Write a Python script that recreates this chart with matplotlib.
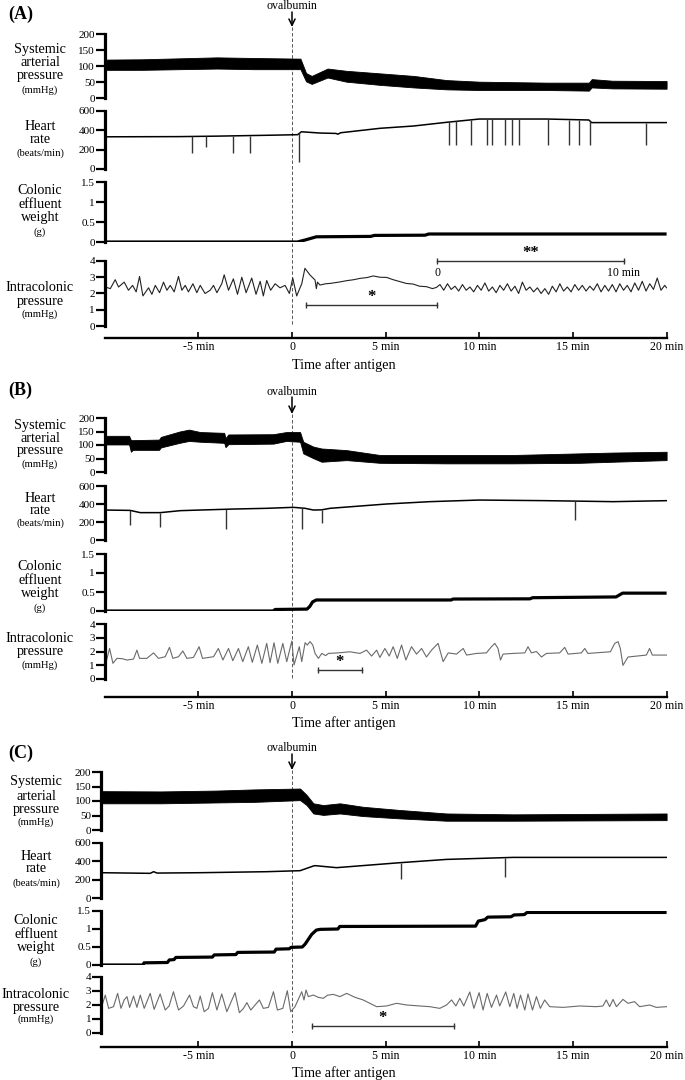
import matplotlib
matplotlib.use('Agg')
import matplotlib.pyplot as plt
import numpy as np
from matplotlib.transforms import blended_transform_factory

plt.rcParams['font.family'] = ['Liberation Serif', 'DejaVu Serif']

# ---------------- DATA ----------------
TIME_TICKS = [-5, 0, 5, 10, 15, 20]
TIME_LABELS = ['-5 min', '0', '5 min', '10 min', '15 min', '20 min']
ANTIGEN_T = 0
SAP_TICKS = [0, 50, 100, 150, 200]
HR_TICKS = [0, 200, 400, 600]
CEW_TICKS = [0, 0.5, 1, 1.5]
CEW_LABELS = ['0', '0.5', '1', '1.5']
ICP_TICKS = [0, 1, 2, 3, 4]

# Panel A
A_SAP_T = [-10, -8, -6, -4, -2, 0.45, 0.75, 1.05, 1.9, 2.9, 4.7, 6.5, 8.25, 10, 13.6, 15.85, 16.0, 17.1, 20]
A_SAP_LO = [88, 88, 90, 92, 90, 90, 52, 44, 64, 51, 41, 33, 27, 25, 25, 23, 33, 30, 29]
A_SAP_HI = [120, 121, 124, 127, 125, 123, 78, 69, 92, 85, 77, 69, 56, 51, 48, 48, 59, 54, 53]
A_HR_T = [-10, -6, -4, -1, 0.3, 0.5, 1.5, 2.35, 2.45, 2.6, 4.7, 6.5, 8.25, 10, 13.6, 15.85, 16.0, 20]
A_HR_V = [333, 335, 340, 350, 355, 385, 372, 368, 360, 375, 421, 445, 483, 517, 517, 507, 480, 480]
A_HR_SPK_T = [-5.35, -4.6, -3.16, -2.24, 0.39, 8.39, 8.78, 9.58, 10.42, 10.70, 11.38, 11.73, 12.12,
              13.69, 14.79, 15.32, 15.89, 18.92]
A_HR_SPK_V = [169, 231, 169, 169, 76, 248, 248, 248, 248, 248, 248, 248, 248, 248, 248, 248, 248, 248]
A_CEW_T = [-10, 0.3, 0.45, 0.7, 1.0, 1.3, 4.2, 4.4, 7.1, 7.3, 20]
A_CEW_V = [0, 0, 0.02, 0.05, 0.09, 0.13, 0.14, 0.165, 0.17, 0.2, 0.2]
A_ICP = [(-9.97, 2.4), (-9.70, 2.3), (-9.44, 2.85), (-9.26, 2.4), (-8.96, 2.7), (-8.73, 2.2), (-8.51, 2.5),
         (-8.32, 2.1), (-8.14, 3.05), (-7.96, 1.85), (-7.66, 2.35), (-7.48, 1.95), (-7.30, 2.5), (-7.07, 2.05),
         (-6.86, 2.7), (-6.68, 2.2), (-6.50, 2.5), (-6.29, 2.1), (-6.06, 3.05), (-5.88, 2.2), (-5.70, 2.5),
         (-5.53, 2.1), (-5.29, 2.6), (-5.08, 2.05), (-4.90, 2.5), (-4.64, 2.0), (-4.37, 2.2), (-4.19, 2.5),
         (-4.01, 2.05), (-3.75, 2.6), (-3.62, 3.15), (-3.39, 2.2), (-3.13, 2.9), (-2.91, 1.95), (-2.68, 3.0),
         (-2.45, 2.05), (-2.15, 2.95), (-1.92, 1.95), (-1.70, 2.75), (-1.53, 1.85), (-1.35, 2.8), (-1.14, 2.2),
         (-0.90, 2.6), (-0.64, 2.35), (-0.37, 2.5), (-0.14, 2.0), (0.04, 2.95), (0.25, 1.85), (0.52, 2.6),
         (0.69, 3.55), (0.96, 3.14), (1.23, 2.83), (1.30, 2.3), (1.36, 2.7), (1.49, 2.52), (1.8, 2.6),
         (2.03, 2.62), (2.5, 2.7), (2.92, 2.79), (3.3, 2.85), (3.63, 2.93), (4.0, 2.98), (4.34, 3.08),
         (4.7, 3.0), (5.05, 2.99), (5.4, 2.85), (5.76, 2.73), (6.1, 2.62), (6.47, 2.58), (6.8, 2.45),
         (7.18, 2.42), (7.5, 2.3), (7.72, 2.38),
         (7.9, 2.55), (8.1, 2.2), (8.3, 2.6), (8.5, 2.25), (8.7, 2.45), (8.9, 2.15), (9.1, 2.55), (9.3, 2.2),
         (9.5, 2.4), (9.7, 2.1), (9.9, 2.5), (10.1, 2.2), (10.3, 2.65), (10.5, 2.15), (10.7, 2.4), (10.9, 2.05),
         (11.1, 2.5), (11.3, 2.2), (11.5, 2.6), (11.7, 2.15), (11.9, 2.45), (12.1, 2.0), (12.3, 2.7), (12.5, 2.2),
         (12.7, 2.4), (12.9, 2.1), (13.1, 2.35), (13.3, 2.0), (13.5, 2.3), (13.7, 1.95), (13.9, 2.45),
         (14.1, 2.1), (14.3, 2.6), (14.5, 2.15), (14.7, 2.4), (14.9, 2.1), (15.1, 2.55), (15.3, 2.2),
         (15.5, 2.5), (15.7, 2.15), (15.9, 2.45), (16.1, 2.2), (16.3, 2.6), (16.5, 2.1), (16.7, 2.5),
         (16.9, 2.15), (17.1, 2.55), (17.3, 2.1), (17.5, 2.6), (17.7, 2.2), (17.9, 2.5), (18.1, 2.1),
         (18.3, 2.65), (18.5, 2.2), (18.7, 2.75), (18.9, 2.15), (19.1, 2.6), (19.3, 2.25), (19.5, 2.95),
         (19.7, 2.2), (19.9, 2.5), (20.0, 2.35)]
A_BARS = [(0.75, 7.75, 1.3, '*'), (7.75, 17.7, 4.0, '**')]
A_BAR2_END_LABELS = ['0', '10 min']

# Panel B
B_SAP_T = [-10, -8.7, -8.6, -8.5, -7.1, -7.0, -6.0, -5.5, -4.9, -3.62, -3.55, -3.4, -1.0, -0.3, 0.43, 0.6,
           1.14, 1.58, 2.92, 4.69, 8.25, 11.8, 15.36, 17.14, 20]
B_SAP_LO = [102, 102, 75, 82, 82, 91, 108, 115, 112, 108, 92, 103, 105, 115, 112, 69, 51, 38, 44, 34, 32,
            32, 34, 38, 44]
B_SAP_HI = [134, 134, 118, 118, 120, 130, 150, 157, 148, 145, 125, 139, 140, 148, 148, 112, 94, 87, 81, 63,
            63, 63, 69, 72, 75]
B_HR_T = [-10, -8.64, -8.1, -7.03, -5.97, -4.9, -3.13, -1.35, 0.07, 0.7, 1.14, 1.58, 2.03, 5.05, 7.36, 10,
          13.58, 17.14, 20]
B_HR_V = [333, 329, 304, 304, 326, 333, 344, 352, 363, 352, 333, 335, 352, 400, 426, 444, 437, 426, 437]
B_HR_SPK_T = [-8.64, -7.07, -3.52, 0.52, 1.58, 15.09]
B_HR_SPK_V = [167, 148, 119, 119, 185, 222]
B_CEW_T = [-10, -1.0, -0.9, 0.8, 0.95, 1.1, 1.3, 8.5, 8.6, 12.7, 12.85, 17.3, 17.65, 20]
B_CEW_V = [0, 0, 0.04, 0.05, 0.12, 0.24, 0.29, 0.29, 0.315, 0.32, 0.35, 0.37, 0.47, 0.47]
B_ICP = [(-9.95, 1.1), (-9.74, 2.22), (-9.56, 1.14), (-9.35, 1.5), (-9.08, 1.48), (-8.81, 1.38),
         (-8.46, 1.45), (-8.28, 2.1), (-8.14, 1.5), (-7.75, 1.5), (-7.39, 1.9), (-7.13, 1.5), (-6.77, 1.62),
         (-6.54, 2.3), (-6.36, 1.5), (-6.06, 1.62), (-5.83, 2.04), (-5.61, 1.5), (-5.26, 1.57), (-4.96, 2.35),
         (-4.78, 1.5), (-4.19, 1.62), (-3.93, 2.22), (-3.69, 1.38), (-3.39, 2.22), (-3.16, 1.33),
         (-2.86, 2.22), (-2.63, 1.26), (-2.33, 2.35), (-2.12, 1.21), (-1.85, 2.47), (-1.61, 1.14),
         (-1.35, 2.59), (-1.17, 1.19), (-0.96, 2.64), (-0.76, 1.14), (-0.49, 2.59), (-0.28, 1.26),
         (-0.01, 2.76), (0.11, 1.02), (0.39, 2.35), (0.52, 1.26), (0.70, 2.64), (0.82, 2.47), (0.96, 2.72),
         (1.11, 2.47), (1.23, 1.86), (1.41, 1.5), (1.59, 1.86), (1.8, 1.7), (1.94, 1.86), (2.47, 1.9),
         (3.09, 1.98), (3.63, 1.86), (3.98, 2.1), (4.25, 1.67), (4.52, 2.1), (4.69, 1.57), (4.96, 2.22),
         (5.19, 1.67), (5.40, 2.35), (5.62, 1.5), (5.85, 2.47), (6.08, 1.38), (6.38, 2.35), (6.65, 1.81),
         (6.92, 2.22), (7.18, 1.6), (7.45, 2.1), (7.80, 2.59), (8.07, 1.26), (8.34, 1.9), (8.78, 1.81),
         (9.14, 2.22), (9.32, 1.74), (9.85, 1.86), (10.38, 1.9), (10.65, 2.35), (10.83, 2.59), (11.0, 2.22),
         (11.13, 1.38), (11.27, 1.81), (11.80, 1.86), (12.43, 1.9), (12.60, 2.35), (12.78, 1.9), (13.05, 2.0),
         (13.32, 1.6), (13.58, 1.86), (14.29, 1.9), (14.56, 2.3), (14.74, 1.81), (15.45, 1.9), (15.63, 2.22),
         (15.80, 1.86), (17.0, 1.98), (17.23, 2.59), (17.41, 2.72), (17.53, 2.22), (17.67, 0.99),
         (17.94, 1.6), (18.92, 1.74), (19.09, 2.22), (19.24, 1.74), (20.0, 1.74)]
B_BARS = [(1.40, 3.72, 0.65, '*')]

# Panel C
C_SAP_T = [-10.2, -7, -4, -2, 0.43, 0.78, 1.14, 1.67, 2.56, 3.8, 5.76, 8.25, 11.8, 20]
C_SAP_LO = [92, 92, 95, 97, 103, 86, 57, 52, 57, 48, 40, 32, 32, 34]
C_SAP_HI = [134, 133, 136, 140, 143, 121, 92, 86, 92, 80, 69, 57, 54, 57]
C_HR_T = [-10.2, -7.57, -7.39, -7.2, -4.9, -1.35, 0.43, 1.14, 1.23, 2.38, 5.76, 8.25, 11.8, 20]
C_HR_V = [276, 269, 287, 272, 276, 287, 298, 349, 353, 331, 385, 421, 443, 443]
C_HR_SPK_T = [5.8, 11.38]
C_HR_SPK_V = [204, 226]
C_CEW = [(-10.15, 0.0), (-7.95, 0.0), (-7.9, 0.06), (-6.65, 0.07), (-6.55, 0.14), (-6.3, 0.15), (-6.2, 0.21),
         (-4.25, 0.22), (-4.15, 0.28), (-3.0, 0.29), (-2.9, 0.35), (-0.95, 0.36), (-0.85, 0.44), (-0.15, 0.45),
         (-0.05, 0.49), (0.55, 0.50), (0.7, 0.58), (1.05, 0.85), (1.3, 0.97), (1.5, 0.99), (2.45, 1.0),
         (2.55, 1.07), (9.8, 1.08), (9.95, 1.22), (10.3, 1.26), (10.45, 1.33), (11.7, 1.34), (11.85, 1.39),
         (12.4, 1.40), (12.55, 1.46), (20, 1.46)]
C_ICP = [(-10.15, 1.93), (-9.97, 2.71), (-9.79, 1.76), (-9.53, 1.88), (-9.31, 2.83), (-9.13, 1.76),
         (-8.96, 2.36), (-8.81, 2.6), (-8.67, 1.83), (-8.46, 2.64), (-8.28, 1.83), (-8.10, 2.71), (-7.89, 1.76),
         (-7.57, 2.83), (-7.36, 1.69), (-7.04, 2.79), (-6.77, 1.64), (-6.56, 1.93), (-6.33, 2.95), (-6.06, 1.64),
         (-5.79, 1.93), (-5.47, 2.71), (-5.26, 1.88), (-5.08, 1.76), (-4.90, 2.64), (-4.69, 1.52), (-4.46, 1.76),
         (-4.25, 2.88), (-4.01, 1.64), (-3.75, 2.79), (-3.48, 1.52), (-3.04, 2.88), (-2.81, 1.45), (-2.59, 1.76),
         (-2.41, 2.17), (-2.20, 1.64), (-1.74, 2.36), (-1.53, 1.76), (-1.26, 1.83), (-0.99, 2.95), (-0.78, 1.64),
         (-0.49, 1.76), (-0.25, 3.02), (-0.07, 1.52), (0.16, 1.88), (0.52, 2.95), (0.64, 2.36), (0.75, 3.07),
         (0.87, 2.6), (1.14, 2.71), (1.4, 2.55), (1.67, 2.48), (1.9, 2.7), (2.20, 2.76), (2.56, 2.6),
         (2.92, 2.83), (3.36, 2.55), (3.80, 2.36), (4.16, 2.12), (4.52, 1.88), (5.05, 1.93), (5.58, 2.12),
         (6.12, 2.0), (6.83, 1.93), (7.36, 1.88), (7.89, 1.76), (8.25, 2.0), (8.52, 2.36), (8.75, 1.93),
         (8.96, 2.48), (9.17, 1.93), (9.49, 2.93), (9.71, 1.76), (9.99, 2.88), (10.20, 1.64), (10.42, 2.83),
         (10.65, 1.83), (10.92, 2.71), (11.09, 1.93), (11.41, 2.93), (11.63, 1.88), (11.84, 2.83), (12.02, 1.76),
         (12.2, 2.71), (12.43, 1.64), (12.60, 2.79), (12.84, 1.64), (13.05, 2.6), (13.26, 1.76), (13.49, 2.36),
         (13.76, 1.88), (14.47, 1.83), (15.36, 1.93), (16.25, 1.88), (16.6, 1.93), (16.78, 2.36), (16.96, 1.88),
         (17.14, 2.4), (17.32, 1.88), (17.67, 2.4), (17.94, 2.12), (18.29, 2.24), (18.56, 1.88), (19.09, 2.0),
         (19.45, 1.83), (20.0, 1.88)]
C_BARS = [(1.05, 8.66, 0.5, '*')]

# ---------------- LAYOUT ----------------
W, H = 685, 1080
X_ZERO_PX = 292.0
PX_PER_MIN = 18.73
T_END = 20

fig = plt.figure(figsize=(W / 100, H / 100), dpi=100)


def px_axes(x0, y_top, x1, y_bot):
    ax = fig.add_axes([x0 / W, 1 - y_bot / H, (x1 - x0) / W, (y_bot - y_top) / H])
    ax.patch.set_alpha(0)
    return ax


def ftext(x, y, s, **kw):
    fig.text(x / W, 1 - y / H, s, **kw)


def tpx(t):
    return X_ZERO_PX + t * PX_PER_MIN


PANELS = [
    dict(letter='(A)', left=-10.0, letter_y=14, oval_y=6, arrow=(12, 27),
         sap=(34, 98), hr=(111, 169), cew=(182, 242), icp=(261, 326), time_y=338, xlab_y=365,
         lab_x=40, lab_sap=[50, 63, 76, 90], lab_hr=[127, 139, 153], lab_cew=[190, 204, 217, 232],
         lab_icp=[288, 301, 314], icp_color='#222222'),
    dict(letter='(B)', left=-10.0, letter_y=390, oval_y=392, arrow=(397, 414),
         sap=(418, 472), hr=(486, 540), cew=(554, 611), icp=(624, 679), time_y=697, xlab_y=723,
         lab_x=40, lab_sap=[425, 438, 450, 464], lab_hr=[498, 510, 523], lab_cew=[567, 580, 593, 608],
         lab_icp=[638, 651, 665], icp_color='#6a6a6a'),
    dict(letter='(C)', left=-10.2, letter_y=753, oval_y=748, arrow=(754, 770),
         sap=(772, 830), hr=(843, 898), cew=(911, 965), icp=(977, 1033), time_y=1047, xlab_y=1073,
         lab_x=36, lab_sap=[782, 796, 809, 822], lab_hr=[857, 869, 883], lab_cew=[920, 934, 947, 962],
         lab_icp=[994, 1007, 1019], icp_color='#6a6a6a'),
]

DATA = [
    dict(sap=(A_SAP_T, A_SAP_LO, A_SAP_HI), hr=(A_HR_T, A_HR_V), spk=(A_HR_SPK_T, A_HR_SPK_V),
         cew=(A_CEW_T, A_CEW_V), icp=A_ICP, bars=A_BARS),
    dict(sap=(B_SAP_T, B_SAP_LO, B_SAP_HI), hr=(B_HR_T, B_HR_V), spk=(B_HR_SPK_T, B_HR_SPK_V),
         cew=(B_CEW_T, B_CEW_V), icp=B_ICP, bars=B_BARS),
    dict(sap=(C_SAP_T, C_SAP_LO, C_SAP_HI), hr=(C_HR_T, C_HR_V), spk=(C_HR_SPK_T, C_HR_SPK_V),
         cew=([p[0] for p in C_CEW], [p[1] for p in C_CEW]), icp=C_ICP, bars=C_BARS),
]

BIG = 10.2
SMALL = 7.6
TICK_FS = 8


def trace_axes(P, key, ylim, ticks, labels=None):
    top, bot = P[key]
    ax = px_axes(tpx(P['left']), top, tpx(T_END), bot)
    ax.set_xlim(P['left'], T_END)
    ax.set_ylim(*ylim)
    for s in ['top', 'right', 'bottom']:
        ax.spines[s].set_visible(False)
    ax.spines['left'].set_linewidth(2.3)
    ax.set_xticks([])
    ax.set_yticks(ticks)
    ax.set_yticklabels(labels if labels else [str(t) for t in ticks], fontsize=TICK_FS)
    ax.tick_params(axis='y', direction='out', length=6.5, width=1.6, pad=0.5)
    return ax


def ylab(P, ys, lines):
    for y, (s, small) in zip(ys, lines):
        ftext(P['lab_x'], y, s, ha='center', va='center', fontsize=SMALL if small else BIG)


for P, D in zip(PANELS, DATA):
    # overlay for antigen marker
    ov_top = P['oval_y'] - 10
    ov = px_axes(tpx(P['left']), ov_top, tpx(T_END), P['icp'][1])
    ov.set_xlim(P['left'], T_END)
    ov.set_ylim(P['icp'][1], ov_top)
    ov.axis('off')
    ov.plot([ANTIGEN_T, ANTIGEN_T], [P['arrow'][1], P['icp'][1]], color='#555555', lw=0.7,
            ls=(0, (3.5, 2.2)))
    ov.annotate('', xy=(ANTIGEN_T, P['arrow'][1]), xytext=(ANTIGEN_T, P['arrow'][0]),
                arrowprops=dict(arrowstyle='->,head_length=0.45,head_width=0.22', lw=1.1, color='black',
                                shrinkA=0, shrinkB=0))
    ov.text(ANTIGEN_T, P['oval_y'], 'ovalbumin', ha='center', va='center', fontsize=8.6)

    ftext(8, P['letter_y'], P['letter'], ha='left', va='center', fontsize=13, fontweight='bold')

    # SAP
    ax = trace_axes(P, 'sap', (0, 200), SAP_TICKS)
    t, lo, hi = D['sap']
    ax.fill_between(t, lo, hi, color='black', lw=0.6, edgecolor='black')
    ylab(P, P['lab_sap'], [('Systemic', 0), ('arterial', 0), ('pressure', 0), ('(mmHg)', 1)])

    # HR
    ax = trace_axes(P, 'hr', (0, 600), HR_TICKS)
    t, v = D['hr']
    ax.plot(t, v, color='black', lw=1.1)
    st, sv = D['spk']
    base = np.interp(st, t, v)
    ax.vlines(st, sv, base, color='#333333', lw=1.0)
    ylab(P, P['lab_hr'], [('Heart', 0), ('rate', 0), ('(beats/min)', 1)])

    # CEW
    ax = trace_axes(P, 'cew', (0, 1.5), CEW_TICKS, CEW_LABELS)
    t, v = D['cew']
    ax.plot(t, v, color='black', lw=2.3, solid_capstyle='butt')
    ylab(P, P['lab_cew'], [('Colonic', 0), ('effluent', 0), ('weight', 0), ('(g)', 1)])

    # ICP
    ax = trace_axes(P, 'icp', (0, 4), ICP_TICKS)
    it = [p[0] for p in D['icp']]
    iv = [p[1] for p in D['icp']]
    ax.plot(it, iv, color=P['icp_color'], lw=0.8)
    for (t0, t1, yb, star) in D['bars']:
        ax.plot([t0, t1], [yb, yb], color='#333333', lw=1.0, clip_on=False)
        ax.plot([t0, t1], [yb, yb], ls='none', marker='|', ms=5, mew=1.0, color='#333333', clip_on=False)
        ax.text((t0 + t1) / 2, yb + 0.02, star, ha='center', va='bottom', fontsize=12,
                fontweight='bold', clip_on=False)
    if P['letter'] == '(A)':
        t0, t1, yb, _ = D['bars'][1]
        ax.text(t0, yb - 0.35, A_BAR2_END_LABELS[0], ha='center', va='top', fontsize=8.5, clip_on=False)
        ax.text(t1, yb - 0.35, A_BAR2_END_LABELS[1], ha='center', va='top', fontsize=8.5, clip_on=False)
    ylab(P, P['lab_icp'], [('Intracolonic', 0), ('pressure', 0), ('(mmHg)', 1)])

    # time axis
    ty = P['time_y']
    tax = px_axes(tpx(P['left']), ty - 2, tpx(T_END), ty)
    tax.set_xlim(P['left'], T_END)
    for s in ['top', 'right', 'left']:
        tax.spines[s].set_visible(False)
    tax.spines['bottom'].set_linewidth(1.7)
    tax.set_yticks([])
    tax.set_xticks(TIME_TICKS)
    tax.set_xticklabels(TIME_LABELS, fontsize=8.6)
    tax.tick_params(axis='x', direction='in', length=4, width=1.2, pad=2.5)
    ftext(X_ZERO_PX, P['xlab_y'], 'Time after antigen', ha='left', va='center', fontsize=10.2)

fig.savefig('out.png', dpi=100)
